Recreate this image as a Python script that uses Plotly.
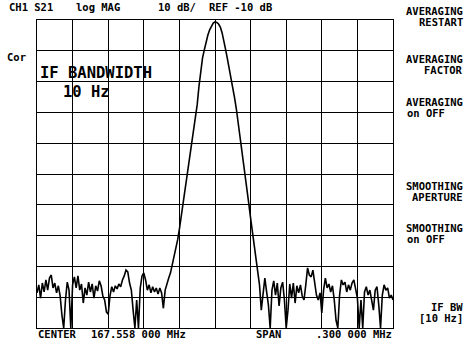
import numpy as np
import plotly.graph_objects as go

# ---------------- data ----------------
center_mhz = 167.558
span_mhz = 0.300
n_points = 201
freq_mhz = np.linspace(center_mhz - span_mhz / 2, center_mhz + span_mhz / 2, n_points)

noise_left_db = [
    -98.6, -96.0, -100.3, -95.4, -98.3, -94.4, -97.7, -93.8, -92.8, -97.0,
    -95.4, -98.6, -96.3, -99.6, -105.8, -110.0, -100.9, -95.1, -97.7, -110.0,
    -96.0, -93.4, -97.0, -93.1, -97.7, -95.7, -101.9, -97.0, -99.3, -95.1,
    -98.3, -95.7, -100.3, -96.3, -98.0, -94.7, -96.3, -99.6, -100.9, -104.8,
    -105.5, -99.6, -96.6, -98.3, -96.3, -97.3, -95.7, -96.6, -94.4, -93.1,
    -91.2, -91.8, -95.4, -97.7, -104.2, -110.0, -100.9, -110.0, -97.0, -93.1,
    -92.1, -94.4, -97.7, -96.0, -98.6, -96.6, -98.3, -97.0, -99.0, -97.0,
    -98.6, -103.6, -97.7,
]
main_lobe_db = [
    -95.4, -93.8, -92.1, -89.5, -87.3, -85.0, -81.4, -77.9, -74.0, -69.7,
    -66.2, -61.9, -57.7, -53.5, -49.3, -45.7, -42.0, -37.5, -31.5, -25.9,
    -22.3, -19.7, -17.1, -14.9, -13.2, -11.9, -11.0, -10.6, -10.8, -11.3,
    -12.3, -14.2, -16.5, -19.7, -22.7, -25.6, -28.8, -32.1, -35.3, -38.9,
    -43.1, -47.7, -51.9, -56.4, -60.6, -65.2, -69.7, -74.3, -78.8, -83.1,
    -88.6, -93.1, -96.0,
]
noise_right_db = [
    -104.2, -97.7, -93.8, -98.3, -102.5, -110.0, -97.7, -94.7, -99.3, -95.4,
    -102.8, -97.0, -95.1, -100.9, -110.0, -104.2, -95.7, -100.3, -95.4, -101.9,
    -96.3, -98.6, -96.0, -99.6, -100.9, -96.0, -90.5, -92.8, -93.4, -91.2,
    -95.4, -99.3, -100.9, -98.6, -105.1, -97.7, -93.8, -97.0, -95.7, -98.3,
    -96.3, -100.9, -107.5, -110.0, -99.3, -94.4, -96.0, -95.1, -98.3, -96.0,
    -97.7, -95.4, -94.4, -97.0, -100.3, -110.0, -100.9, -110.0, -98.3, -96.6,
    -99.3, -97.7, -100.9, -104.2, -97.7, -96.6, -102.5, -110.0, -99.3, -96.0,
    -97.7, -97.0, -100.3, -99.3, -100.9,
]
s21_db = noise_left_db + main_lobe_db + noise_right_db

ref_db = -10
scale_db = 10
n_div = 10

top_labels = ["CH1 S21", "log MAG", "10 dB/", "REF -10 dB"]
softkeys = [("AVERAGING", "RESTART"), ("AVERAGING", "FACTOR"), ("AVERAGING", "on OFF"),
            ("SMOOTHING", "APERTURE"), ("SMOOTHING", "on OFF"), ("IF BW", "[10 Hz]")]
annotation_text = ["IF BANDWIDTH", "10 Hz"]
bottom_labels = ["CENTER", "167.558 000 MHz", "SPAN", ".300 000 MHz"]

# ---------------- figure ----------------
W, H = 467, 341
L, R, T, B = 37, 393, 20, 328

def px(x):
    return (x - L) / (R - L)

def py(y):
    return (B - y) / (B - T)

fig = go.Figure()
fig.add_trace(go.Scatter(x=freq_mhz, y=s21_db, mode="lines",
                         line=dict(color="black", width=1.6), hoverinfo="skip"))

x0 = center_mhz - span_mhz / 2
x1 = center_mhz + span_mhz / 2
fig.update_xaxes(range=[x0, x1], tick0=x0, dtick=span_mhz / n_div, showgrid=True,
                 gridcolor="black", gridwidth=1, showticklabels=False, ticks="",
                 zeroline=False, showline=True, linecolor="black", linewidth=1, mirror=True)
fig.update_yaxes(range=[ref_db - scale_db * n_div, ref_db], dtick=scale_db, showgrid=True,
                 gridcolor="black", gridwidth=1, showticklabels=False, ticks="",
                 zeroline=False, showline=True, linecolor="black", linewidth=1, mirror=True)

mono = "DejaVu Sans Mono"
small = dict(family=mono, size=10.5, color="black", weight="bold")
anns = []

def add(text, x, y, anchor="left", font=small):
    anns.append(dict(text=text, x=px(x), y=py(y), xref="paper", yref="paper",
                     xanchor=anchor, yanchor="middle", showarrow=False, font=font,
                     borderpad=0))

# top row
add(top_labels[0], 8, 7)
add(top_labels[1], 75, 7)
add(top_labels[2], 157, 7)
add(top_labels[3], 208, 7)
add("Cor", 6, 57)

# softkeys
soft_y = [(11, 22), (59, 70), (102, 113), (186, 197), (228, 239), (307, 318)]
for (a, b), (ya, yb) in zip(softkeys, soft_y):
    add(a, 464, ya, anchor="right")
    if b == "on OFF":
        add(b, 406, yb, anchor="left")
    else:
        add(b, 464, yb, anchor="right")

# in-plot annotation
big = dict(family=mono, size=15.5, color="black", weight="bold")
add(annotation_text[0], 39, 73, font=big)
add(annotation_text[1], 62, 92, font=big)

# bottom row
add(bottom_labels[0], 37, 334)
add(bottom_labels[1], 90, 334)
add(bottom_labels[2], 255, 334)
add(bottom_labels[3], 393, 334, anchor="right")

fig.update_layout(width=W, height=H, margin=dict(l=L, r=W - R, t=T, b=H - B),
                  paper_bgcolor="white", plot_bgcolor="white", showlegend=False,
                  annotations=anns)

fig.write_html("out.html", config={"displayModeBar": False},
               post_script="document.body.style.margin='0';document.body.style.overflow='hidden';")
